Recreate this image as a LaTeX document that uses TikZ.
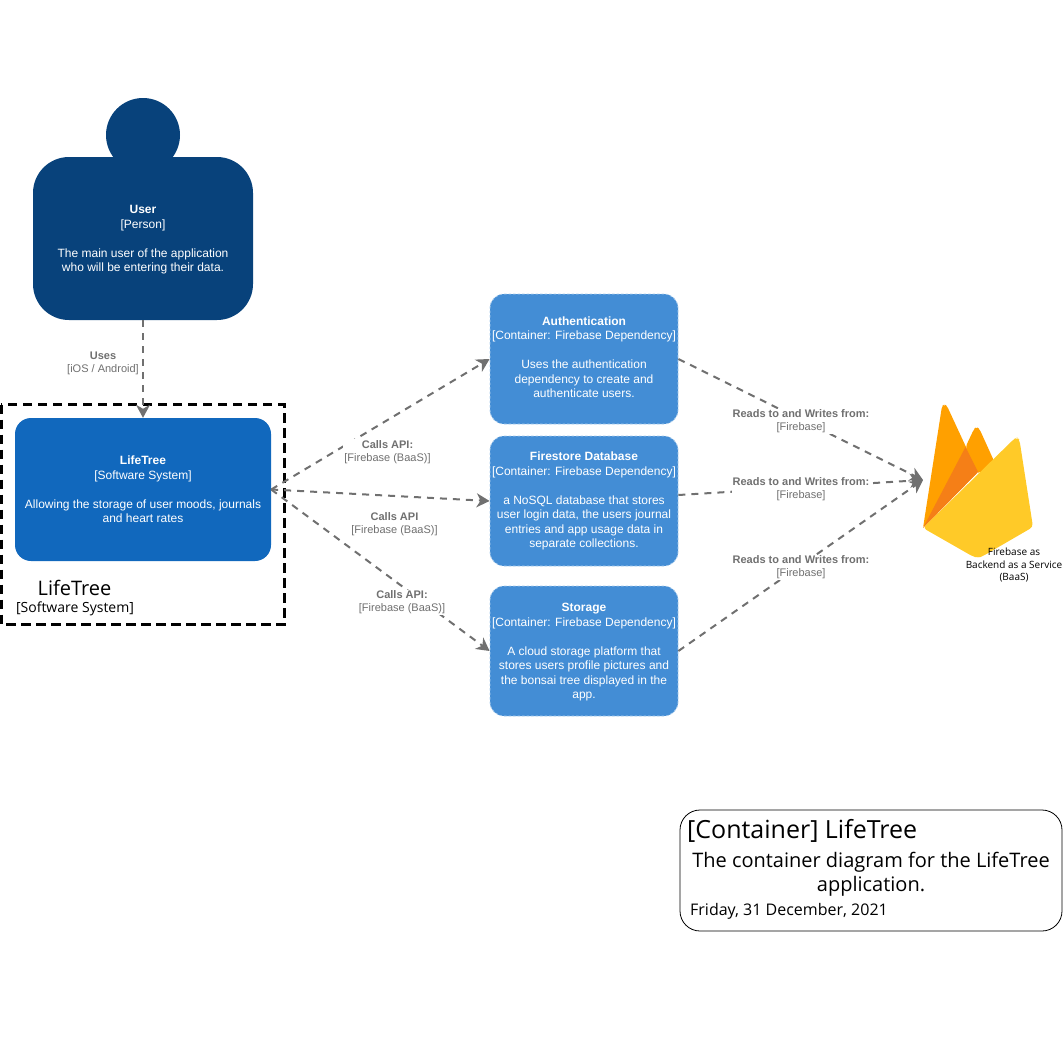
\documentclass[tikz,border=0pt]{standalone}
\usepackage{fontspec}
\setmainfont{Liberation Sans}
\newfontfamily\opensans{Open Sans}
\usetikzlibrary{arrows.meta}
\definecolor{personblue}{HTML}{08427B}
\definecolor{systemblue}{HTML}{1168BD}
\definecolor{containerblue}{HTML}{438DD5}
\definecolor{linegrey}{HTML}{707070}
\definecolor{fbamber}{HTML}{FFA000}
\definecolor{fbdark}{HTML}{F57F17}
\definecolor{fbyellow}{HTML}{FFCA28}
\tikzset{
  boxtext/.style={text=white,align=center,inner sep=0pt,font=\fontsize{12}{14.5}\selectfont},
  systembox/.style={boxtext,fill=systemblue,rounded corners=16pt,minimum width=256pt,minimum height=143pt},
  personbody/.style={boxtext,fill=personblue,rounded corners=36pt,minimum width=220pt,minimum height=163pt},
  personhead/.style={fill=personblue,circle,inner sep=0pt,minimum size=74pt},
  containerbox/.style={boxtext,fill=containerblue,draw=white!55!containerblue,dash pattern=on 2.5pt off 2pt,line width=.8pt,rounded corners=14pt,minimum width=188pt,minimum height=130pt},
  conn/.style={draw=linegrey,line width=2pt,dash pattern=on 7pt off 6pt,-{Stealth[length=13pt,width=14pt,inset=4pt,fill=linegrey]}},
  connlabel/.style={fill=white,text=linegrey,align=center,inner sep=1pt,font=\fontsize{11}{13}\selectfont},
  boundary/.style={draw=black,line width=3pt,dash pattern=on 9.5pt off 5.5pt},
  plainlabel/.style={inner sep=0pt,align=center,text=black},
}
\begin{document}
\begin{tikzpicture}[x=1pt,y=-1pt]
\useasboundingbox (0,0) rectangle (1063,1041);
% boundary
\draw[boundary] (1,404.5) rectangle (284,624.5);
\node[plainlabel,font=\opensans\fontsize{20}{22}\selectfont] (blabel) at (74.5,588) {LifeTree};
\node[plainlabel,font=\opensans\fontsize{14}{16}\selectfont] (bsub) at (75,608.5) {[Software System]};
% nodes
\node[personhead] (head) at (143,135) {};
\node[personbody] (user) at (143,238.5) {\rule{0pt}{11pt}\textbf{User}\\{}[Person]\\[14.5pt]The main user of the application\\who will be entering their data.};
\node[systembox] (lt) at (143,489.5) {\textbf{LifeTree}\\{}[Software System]\\[14.5pt]Allowing the storage of user moods, journals\\and heart rates};
\node[containerbox] (auth) at (584,359) {\textbf{Authentication}\\{}[Container: Firebase Dependency]\\[14.5pt]Uses the authentication\\dependency to create and\\authenticate users.\rule[-3.5pt]{0pt}{0pt}};
\node[containerbox] (fs) at (584,501) {\textbf{Firestore Database}\\{}[Container: Firebase Dependency]\\[14.5pt]a NoSQL database that stores\\user login data, the users journal\\entries and app usage data in\\separate collections.};
\node[containerbox] (st) at (584,651) {\rule{0pt}{10.5pt}\textbf{Storage}\\{}[Container: Firebase Dependency]\\[14.5pt]A cloud storage platform that\\stores users profile pictures and\\the bonsai tree displayed in the\\app.};
% firebase icon
\fill[fbamber,rounded corners=2.5pt] (923,528) -- (942,406) -- (944.5,404.5) -- (947,406) -- (966,447) -- (978,472) -- cycle;
\fill[fbamber,rounded corners=3pt] (965.5,447) -- (974,429) -- (976.5,427) -- (979.5,429) -- (994,461) -- (978,474) -- cycle;
\fill[fbdark] (923,528) -- (965.5,447) -- (978,472) -- cycle;
\fill[fbyellow,rounded corners=3.5pt] (923,528) -- (1014,439) -- (1017,437.5) -- (1019.5,440) -- (1033,527) -- (983,556) -- (978,558) -- (972,556) -- cycle;
\coordinate (fb) at (923,480);
\node[plainlabel,font=\opensans\fontsize{10}{12.5}\selectfont] (fblabel) at (1014,565) {Firebase as\\Backend as a Service\\(BaaS)};
% connectors
\draw[conn] (user.south) -- (lt.north);
\draw[conn] (lt.east) -- (auth.west);
\draw[conn] (lt.east) -- (fs.west);
\draw[conn] (lt.east) -- (st.west);
\draw[conn] (auth.east) -- (fb);
\draw[conn] ([yshift=6pt]fs.east) -- (fb);
\draw[conn] (st.east) -- (fb);
% connector labels
\node[connlabel] (l1) at (103,363) {\textbf{Uses}\\{}[iOS / Android]};
\node[connlabel] (l2) at (387.5,452) {\textbf{Calls API:}\\{}[Firebase (BaaS)]};
\node[connlabel] (l3) at (394.5,524.5) {\textbf{Calls API}\\{}[Firebase (BaaS)]};
\node[connlabel] (l4) at (402,602.5) {\textbf{Calls API:}\\{}[Firebase (BaaS)]};
\node[connlabel] (l5) at (801,421.5) {\textbf{Reads to and Writes from:}\\{}[Firebase]};
\node[connlabel] (l6) at (801,489.5) {\textbf{Reads to and Writes from:}\\{}[Firebase]};
\node[connlabel] (l7) at (801,567.5) {\textbf{Reads to and Writes from:}\\{}[Firebase]};
% title
\node[draw=black,line width=.8pt,rounded corners=20pt,minimum width=382pt,minimum height=121pt,inner sep=0pt] (titlebox) at (871,870.5) {};
\node[plainlabel,anchor=west,font=\opensans\fontsize{25}{29}\selectfont] (title) at (687,831) {[Container] LifeTree};
\node[plainlabel,font=\opensans\fontsize{20}{24}\selectfont] (desc) at (871,874) {The container diagram for the LifeTree\\application.};
\node[plainlabel,anchor=west,font=\opensans\fontsize{16}{18}\selectfont] (date) at (690,911.5) {Friday, 31 December, 2021};
\end{tikzpicture}
\end{document}
